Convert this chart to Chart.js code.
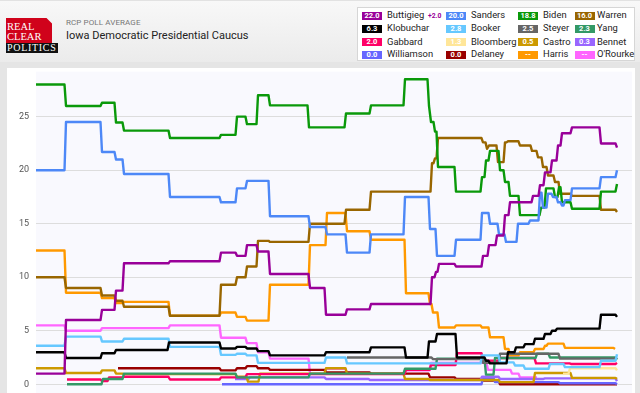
<!DOCTYPE html>
<html>
<head>
<meta charset="utf-8">
<script src="https://cdn.jsdelivr.net/npm/chart.js@4.4.0/dist/chart.umd.min.js"></script>
<style>
  html,body{margin:0;padding:0;}
  body{width:640px;height:393px;overflow:hidden;position:relative;background:#e5e5e5;font-family:Roboto,Arial,sans-serif;}
  #header{position:absolute;left:0;top:0;width:640px;height:62px;background:linear-gradient(#f8f8f8,#ebebeb);border-top:1px solid #e2e2e2;box-sizing:border-box;}
  #logoRed{position:absolute;left:6px;top:17px;width:46px;height:25px;background:#d0021b;clip-path:polygon(0 0,88% 0,100% 22%,100% 100%,0 100%);}
  #logoBlack{position:absolute;left:6px;top:42px;width:52px;height:10px;background:#111;}
  .logoTxt{position:absolute;color:#fff;font-family:"Liberation Serif","DejaVu Serif",serif;font-size:10.5px;line-height:10px;white-space:nowrap;}
  #sub{position:absolute;left:66px;top:17px;font-size:8px;color:#777;letter-spacing:0.1px;}
  #title{position:absolute;left:66px;top:28px;font-size:11px;color:#222;}
  #legend{position:absolute;left:357px;top:7px;width:278px;height:54px;background:#fff;border:1px solid #d6d6d6;box-sizing:border-box;}
  .badge{position:absolute;width:20px;height:8px;color:#fff;font-weight:bold;font-size:7.5px;line-height:8px;text-align:center;}
  .lname{position:absolute;font-size:9.4px;line-height:10px;color:#222;white-space:nowrap;}
  #chg{position:absolute;font-size:6.8px;font-weight:bold;color:#990099;line-height:8px;}
  #panel{position:absolute;left:7px;top:68px;width:628px;height:330px;background:#fff;}
  #c{position:absolute;left:7px;top:68px;}
</style>
</head>
<body>
<div id="header">
  <div id="logoRed"></div>
  <div id="logoBlack"></div>
  <div class="logoTxt" style="left:7px;top:21px;">REAL</div>
  <div class="logoTxt" style="left:7px;top:31px;">CLEAR</div>
  <div class="logoTxt" style="left:7px;top:41.5px;font-size:10px;letter-spacing:0.7px;">POLITICS</div>
  <div id="sub">RCP POLL AVERAGE</div>
  <div id="title">Iowa Democratic Presidential Caucus</div>
</div>
<div id="legend"></div>
<div id="panel"></div>
<canvas id="c" width="628" height="327"></canvas>
<script>
// ---- data: [day, value] change points (value holds until the next change) ----
const buttigieg = [[0,1.0],[30,6.0],[66,6.95],[80,8.75],[88,11.3],[134,11.5],[185,12.3],[201,12.0],[211,13.0],[222,12.4],[234,10.3],[274,9.0],[290,6.5],[311,7.0],[335,7.5],[396,10.0],[400,10.5],[403,11.25],[420,11.0],[447,12.0],[453,13.0],[461,13.9],[469,15.8],[474,17.0],[497,17.6],[504,18.6],[509,19.8],[516,20.9],[522,22.3],[526,23.45],[536,24.0],[565,22.5],[577,22.5],[581,22.1]];
const sanders = [[0,20.0],[30,24.5],[66,21.7],[80,21.0],[88,19.65],[134,17.5],[185,17.0],[201,18.3],[211,19.0],[234,15.7],[274,14.7],[291,14.0],[311,12.3],[335,14.0],[369,17.5],[394,14.5],[401,12.0],[420,13.5],[446,16.0],[454,15.0],[463,14.0],[470,13.3],[482,15.0],[494,15.3],[504,17.9],[507,16.5],[512,17.8],[517,17.5],[522,17.0],[526,16.7],[529,17.2],[536,18.3],[565,19.35],[577,19.35],[581,20.0]];
const biden = [[0,28.0],[30,26.0],[66,26.3],[80,24.45],[88,23.7],[134,23.0],[185,23.3],[201,25.0],[211,24.3],[222,27.0],[234,26.05],[273,24.0],[310,25.3],[335,26.05],[369,28.5],[393,26.0],[395,24.5],[399,23.6],[402,20.3],[420,18.0],[446,19.35],[450,20.9],[454,21.8],[464,20.0],[469,18.9],[474,17.6],[484,15.8],[505,16.5],[510,18.3],[519,17.5],[523,18.4],[526,17.0],[536,16.4],[565,18.0],[577,18.0],[581,18.7]];
const warren = [[0,10.0],[30,9.0],[66,8.3],[80,7.8],[88,7.25],[134,6.4],[185,9.3],[201,10.0],[211,11.0],[222,13.4],[234,13.3],[274,15.0],[310,16.3],[335,18.0],[396,20.65],[399,21.1],[402,23.0],[447,22.6],[451,22.0],[453,22.3],[462,20.75],[469,22.6],[472,22.7],[484,22.3],[496,21.8],[502,21.2],[507,20.3],[512,19.5],[519,18.9],[524,17.8],[536,17.6],[565,16.3],[577,16.3],[581,16.1]];
const klobuchar = [[0,3.0],[30,2.45],[66,2.9],[80,3.2],[133,3.9],[185,3.35],[201,3.5],[211,3.35],[222,3.1],[234,2.7],[290,3.0],[335,3.45],[370,2.5],[393,4.0],[401,4.7],[421,2.5],[450,2.2],[454,1.95],[472,3.0],[480,3.45],[489,3.75],[499,4.25],[509,4.7],[516,5.0],[521,5.2],[565,6.5],[577,6.5],[581,6.3]];
const booker = [[0,3.6],[30,4.45],[66,4.0],[88,4.25],[134,3.5],[185,2.75],[201,2.85],[211,2.7],[222,2.0],[290,2.5],[311,1.95],[446,2.7],[464,2.05],[479,1.75],[489,1.45],[514,1.9],[529,1.6],[565,2.2],[581,2.8]];
const steyer = [[311,2.5],[397,2.35],[447,2.0],[464,2.85],[524,2.4],[581,2.5]];
const yang = [[31,0.0],[67,0.5],[88,1.0],[201,0.65],[274,1.0],[369,1.45],[401,2.4],[450,0.9],[459,2.45],[501,2.85],[514,2.5],[581,2.3]];
const gabbard = [[31,0.45],[66,0.3],[73,0.65],[88,0.7],[134,0.45],[185,0.65],[211,0.95],[370,1.35],[395,1.8],[421,2.9],[447,2.2],[464,2.45],[500,1.95],[535,1.9],[581,2.0]];
const bloomberg = [[527,1.0],[534,1.5],[581,1.3]];
const castro = [[0,1.5],[30,1.05],[66,1.3],[80,1.0],[88,0.95],[201,0.7],[212,0.25],[224,1.0],[290,1.5],[311,1.0],[369,0.5],[394,0.4],[464,0.2],[499,1.05],[536,0.6],[581,0.5]];
const bennet = [[199,0.5],[214,0.65],[290,0.5],[334,0.4],[446,0.7],[464,0.5],[509,0.55],[581,0.3]];
const williamson = [[186,0.0],[447,0.6],[459,0.2],[524,0.1],[581,0.0]];
const delaney = [[82,1.5],[185,1.3],[201,1.5],[211,1.7],[222,1.5],[234,1.35],[290,1.1],[335,1.0],[394,0.65],[420,0.5],[446,0.35],[464,0.0],[581,0.0]];
const harris = [[0,12.5],[30,8.55],[66,8.05],[80,7.6],[88,7.7],[134,6.4],[185,6.7],[201,6.3],[211,5.95],[234,9.3],[274,13.0],[291,16.0],[311,14.3],[335,13.5],[370,8.5],[394,7.5],[397,6.7],[403,5.3],[420,5.5],[446,5.3],[454,4.4],[469,3.3],[474,2.7],[484,3.0],[499,3.3],[509,3.6],[512,3.8],[529,3.4],[579,3.3]];
const orourke = [[0,5.5],[30,5.0],[66,5.25],[134,5.5],[185,4.35],[211,3.85],[222,3.0],[234,2.4],[274,1.0],[290,1.45],[311,1.0],[369,1.3],[395,2.0],[452,1.35],[476,1.0],[484,0.65],[501,0.65]];

const yTicks = [0,5,10,15,20,25];

// legend order (row by row): name, current value label, colour, series
const candidates = [
  ['Buttigieg','22.0','#990099',buttigieg],
  ['Sanders','20.0','#4d88f7',sanders],
  ['Biden','18.8','#0a990a',biden],
  ['Warren','16.0','#996600',warren],
  ['Klobuchar','6.3','#000000',klobuchar],
  ['Booker','2.8','#66c8ff',booker],
  ['Steyer','2.5','#666666',steyer],
  ['Yang','2.3','#339966',yang],
  ['Gabbard','2.0','#ff0066',gabbard],
  ['Bloomberg','1.3','#ffe699',bloomberg],
  ['Castro','0.5','#cc9900',castro],
  ['Bennet','0.3','#9966ff',bennet],
  ['Williamson','0.0','#6666ff',williamson],
  ['Delaney','0.0','#990000',delaney],
  ['Harris','--','#ff9900',harris],
  ["O'Rourke",'--','#ff66ff',orourke]
];
const buttigiegChange = '+2.0';

// ---- legend ----
const badgeX = [362,446,518,574.5], textX = [387,471,543,597], rowY = [15.5,28.8,42.1,54.8];
const body = document.body;
candidates.forEach((c,i)=>{
  const col = i%4, row = Math.floor(i/4);
  const b = document.createElement('div');
  b.className='badge'; b.textContent=c[1]; b.style.background=c[2];
  b.style.left=badgeX[col]+'px'; b.style.top=(rowY[row]-4)+'px';
  body.appendChild(b);
  const t = document.createElement('div');
  t.className='lname'; t.textContent=c[0];
  t.style.left=textX[col]+'px'; t.style.top=(rowY[row]-5.5)+'px';
  body.appendChild(t);
});
const chg = document.createElement('div');
chg.id='chg'; chg.textContent=buttigiegChange; chg.style.left='428px'; chg.style.top=(rowY[0]-4)+'px';
body.appendChild(chg);

// ---- chart ----
function stepPoints(changes){
  const pts=[];
  for(let i=0;i<changes.length-1;i++){
    pts.push({x:changes[i][0],y:changes[i][1]});
    pts.push({x:changes[i+1][0]-1.5,y:changes[i][1]});
  }
  const l=changes[changes.length-1];
  pts.push({x:l[0],y:l[1]});
  return pts;
}
const datasets = candidates.map(c=>({label:c[0],data:stepPoints(c[3]),borderColor:c[2],backgroundColor:c[2]}));

const plotBg = {id:'plotBg',beforeDraw(chart){const a=chart.chartArea,ctx=chart.ctx;ctx.save();ctx.fillStyle='#f9f9fe';ctx.fillRect(a.left,a.top,a.right-a.left,a.bottom-a.top);ctx.restore();}};

new Chart(document.getElementById('c'),{
  type:'line',
  data:{datasets},
  plugins:[plotBg],
  options:{
    responsive:false,animation:false,
    layout:{padding:{top:3.7,right:3,left:0,bottom:0}},
    plugins:{legend:{display:false},tooltip:{enabled:false}},
    elements:{point:{radius:0},line:{borderWidth:2.4,tension:0,borderJoinStyle:'round'}},
    scales:{
      x:{type:'linear',min:0,max:596,display:false},
      y:{min:-1,max:29.2,
         afterBuildTicks:(ax)=>{ax.ticks=yTicks.map(v=>({value:v}));},
         afterFit:(ax)=>{ax.width=29;ax.paddingTop=0;ax.paddingBottom=0;},
         grid:{color:'#dddddd',drawTicks:false},
         border:{display:false},
         ticks:{color:'#555',font:{size:9,family:'Roboto'},padding:7}
      }
    }
  }
});
</script>
</body>
</html>
